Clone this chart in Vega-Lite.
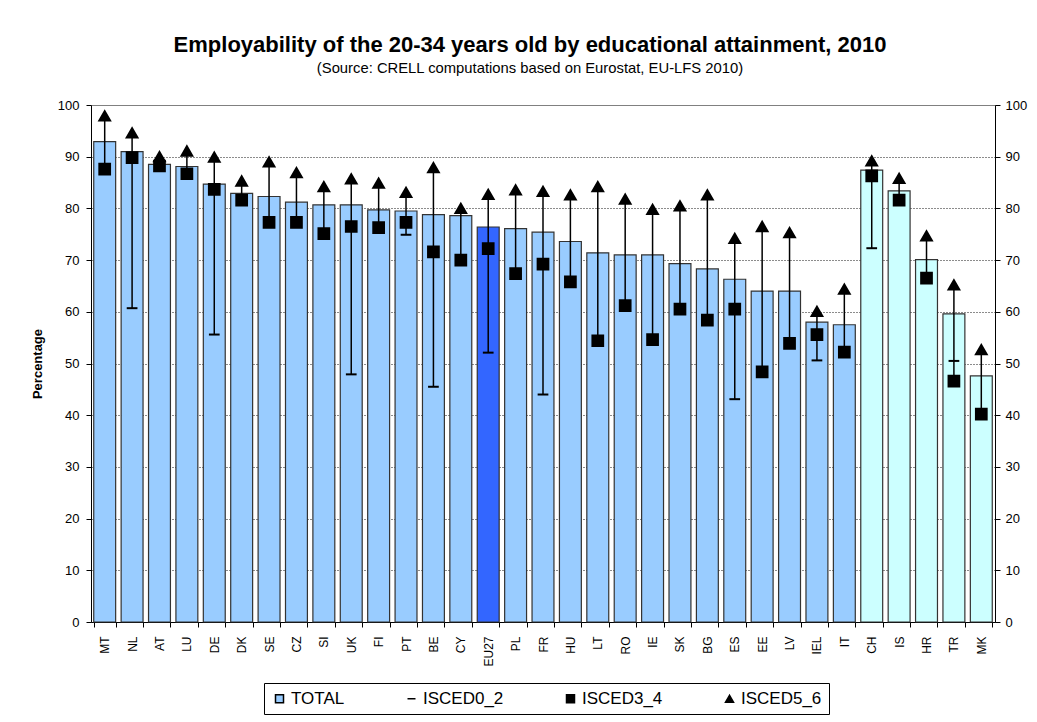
{
  "$schema": "https://vega.github.io/schema/vega-lite/v6.json",
  "width": 904,
  "height": 517,
  "autosize": "none",
  "padding": {"left": 91, "top": 105, "right": 42, "bottom": 100},
  "background": "white",
  "title": {
    "text": "Employability of the 20-34 years old by educational attainment, 2010",
    "subtitle": "(Source: CRELL computations based on Eurostat, EU-LFS 2010)",
    "font": "Liberation Sans",
    "fontSize": 22,
    "fontWeight": "bold",
    "color": "#000000",
    "subtitleFont": "Liberation Sans",
    "subtitleFontSize": 14.8,
    "subtitleColor": "#000000",
    "subtitlePadding": 4,
    "anchor": "middle",
    "frame": "group",
    "offset": 22,
    "dx": -13
  },
  "data": {
    "values": [
      {"country": "MT", "group": "EU", "TOTAL": 92.9, "ISCED0_2": null, "ISCED3_4": 87.6, "ISCED5_6": 97.9},
      {"country": "NL", "group": "EU", "TOTAL": 91.0, "ISCED0_2": 60.7, "ISCED3_4": 89.8, "ISCED5_6": 94.6},
      {"country": "AT", "group": "EU", "TOTAL": 88.5, "ISCED0_2": null, "ISCED3_4": 88.2, "ISCED5_6": 90.0},
      {"country": "LU", "group": "EU", "TOTAL": 88.1, "ISCED0_2": null, "ISCED3_4": 86.7, "ISCED5_6": 91.1},
      {"country": "DE", "group": "EU", "TOTAL": 84.7, "ISCED0_2": 55.6, "ISCED3_4": 83.7, "ISCED5_6": 89.9},
      {"country": "DK", "group": "EU", "TOTAL": 82.9, "ISCED0_2": null, "ISCED3_4": 81.6, "ISCED5_6": 85.3},
      {"country": "SE", "group": "EU", "TOTAL": 82.3, "ISCED0_2": null, "ISCED3_4": 77.3, "ISCED5_6": 89.0},
      {"country": "CZ", "group": "EU", "TOTAL": 81.2, "ISCED0_2": null, "ISCED3_4": 77.3, "ISCED5_6": 86.9},
      {"country": "SI", "group": "EU", "TOTAL": 80.7, "ISCED0_2": null, "ISCED3_4": 75.1, "ISCED5_6": 84.2},
      {"country": "UK", "group": "EU", "TOTAL": 80.7, "ISCED0_2": 47.9, "ISCED3_4": 76.5, "ISCED5_6": 85.7},
      {"country": "FI", "group": "EU", "TOTAL": 79.7, "ISCED0_2": null, "ISCED3_4": 76.3, "ISCED5_6": 84.9},
      {"country": "PT", "group": "EU", "TOTAL": 79.5, "ISCED0_2": 74.9, "ISCED3_4": 77.3, "ISCED5_6": 83.1},
      {"country": "BE", "group": "EU", "TOTAL": 78.8, "ISCED0_2": 45.5, "ISCED3_4": 71.6, "ISCED5_6": 87.9},
      {"country": "CY", "group": "EU", "TOTAL": 78.6, "ISCED0_2": null, "ISCED3_4": 70.0, "ISCED5_6": 80.0},
      {"country": "EU27", "group": "EU27", "TOTAL": 76.4, "ISCED0_2": 52.1, "ISCED3_4": 72.2, "ISCED5_6": 82.7},
      {"country": "PL", "group": "EU", "TOTAL": 76.1, "ISCED0_2": null, "ISCED3_4": 67.4, "ISCED5_6": 83.6},
      {"country": "FR", "group": "EU", "TOTAL": 75.4, "ISCED0_2": 44.0, "ISCED3_4": 69.2, "ISCED5_6": 83.3},
      {"country": "HU", "group": "EU", "TOTAL": 73.6, "ISCED0_2": null, "ISCED3_4": 65.8, "ISCED5_6": 82.6},
      {"country": "LT", "group": "EU", "TOTAL": 71.4, "ISCED0_2": null, "ISCED3_4": 54.4, "ISCED5_6": 84.2},
      {"country": "RO", "group": "EU", "TOTAL": 71.0, "ISCED0_2": null, "ISCED3_4": 61.2, "ISCED5_6": 81.8},
      {"country": "IE", "group": "EU", "TOTAL": 71.0, "ISCED0_2": null, "ISCED3_4": 54.6, "ISCED5_6": 79.8},
      {"country": "SK", "group": "EU", "TOTAL": 69.3, "ISCED0_2": null, "ISCED3_4": 60.5, "ISCED5_6": 80.5},
      {"country": "BG", "group": "EU", "TOTAL": 68.3, "ISCED0_2": null, "ISCED3_4": 58.4, "ISCED5_6": 82.6},
      {"country": "ES", "group": "EU", "TOTAL": 66.3, "ISCED0_2": 43.1, "ISCED3_4": 60.5, "ISCED5_6": 74.2},
      {"country": "EE", "group": "EU", "TOTAL": 64.0, "ISCED0_2": null, "ISCED3_4": 48.4, "ISCED5_6": 76.5},
      {"country": "LV", "group": "EU", "TOTAL": 64.0, "ISCED0_2": null, "ISCED3_4": 53.9, "ISCED5_6": 75.3},
      {"country": "IEL", "group": "EU", "TOTAL": 58.0, "ISCED0_2": 50.6, "ISCED3_4": 55.6, "ISCED5_6": 60.1},
      {"country": "IT", "group": "EU", "TOTAL": 57.5, "ISCED0_2": null, "ISCED3_4": 52.2, "ISCED5_6": 64.4},
      {"country": "CH", "group": "nonEU", "TOTAL": 87.4, "ISCED0_2": 72.3, "ISCED3_4": 86.3, "ISCED5_6": 89.2},
      {"country": "IS", "group": "nonEU", "TOTAL": 83.4, "ISCED0_2": null, "ISCED3_4": 81.6, "ISCED5_6": 85.8},
      {"country": "HR", "group": "nonEU", "TOTAL": 70.1, "ISCED0_2": null, "ISCED3_4": 66.5, "ISCED5_6": 74.7},
      {"country": "TR", "group": "nonEU", "TOTAL": 59.6, "ISCED0_2": 50.5, "ISCED3_4": 46.6, "ISCED5_6": 65.2},
      {"country": "MK", "group": "nonEU", "TOTAL": 47.6, "ISCED0_2": null, "ISCED3_4": 40.2, "ISCED5_6": 52.7}
    ]
  },
  "encoding": {
    "x": {
      "field": "country",
      "type": "nominal",
      "sort": ["MT","NL","AT","LU","DE","DK","SE","CZ","SI","UK","FI","PT","BE","CY","EU27","PL","FR","HU","LT","RO","IE","SK","BG","ES","EE","LV","IEL","IT","CH","IS","HR","TR","MK"],
      "scale": {"paddingInner": 0.2, "paddingOuter": 0.1},
      "axis": {
        "title": null,
        "labelAngle": -90,
        "labelAlign": "right",
        "labelBaseline": "middle",
        "labelFont": "Liberation Sans",
        "labelFontSize": 12,
        "labelColor": "#000000",
        "labelPadding": 9,
        "tickBand": "extent",
        "tickSize": 5,
        "tickColor": "#000000",
        "domainColor": "#000000",
        "grid": false
      }
    }
  },
  "layer": [
    {
      "mark": {"type": "bar", "stroke": "#333333", "strokeWidth": 1.2},
      "encoding": {
        "y": {
          "field": "TOTAL",
          "type": "quantitative",
          "scale": {"domain": [0, 100], "nice": false},
          "axis": {
            "orient": "left",
            "title": "Percentage",
            "titleFont": "Liberation Sans",
            "titleFontSize": 13,
            "titleFontWeight": "bold",
            "titleColor": "#000000",
            "titlePadding": 13,
            "values": [0, 10, 20, 30, 40, 50, 60, 70, 80, 90, 100],
            "labelFont": "Liberation Sans",
            "labelFontSize": 13,
            "labelColor": "#000000",
            "labelPadding": 7,
            "tickSize": 5,
            "tickColor": "#000000",
            "domainColor": "#000000",
            "grid": true,
            "gridColor": "#000000",
            "gridDash": [1, 2],
            "gridOpacity": {"condition": {"test": "datum.value === 0 || datum.value === 100", "value": 0}, "value": 0.9}
          }
        },
        "fill": {
          "field": "group",
          "type": "nominal",
          "scale": {"domain": ["EU", "EU27", "nonEU"], "range": ["#99CCFF", "#3366FF", "#CCFFFF"]},
          "legend": null
        }
      }
    },
    {
      "transform": [
        {"fold": ["ISCED0_2", "ISCED3_4", "ISCED5_6"], "as": ["series", "value"]},
        {"filter": "isValid(datum.value)"},
        {"aggregate": [{"op": "min", "field": "value", "as": "lo"}, {"op": "max", "field": "value", "as": "hi"}], "groupby": ["country"]}
      ],
      "mark": {"type": "rule", "color": "#000000", "strokeWidth": 1.5},
      "encoding": {
        "y": {
          "field": "lo",
          "type": "quantitative",
          "axis": {
            "orient": "right",
            "title": null,
            "values": [0, 10, 20, 30, 40, 50, 60, 70, 80, 90, 100],
            "labelFont": "Liberation Sans",
            "labelFontSize": 13,
            "labelColor": "#000000",
            "labelPadding": 5,
            "tickSize": 5,
            "tickColor": "#000000",
            "domainColor": "#000000",
            "grid": false
          }
        },
        "y2": {"field": "hi"}
      }
    },
    {
      "transform": [
        {"fold": ["ISCED0_2", "ISCED3_4", "ISCED5_6"], "as": ["series", "value"]},
        {"filter": "isValid(datum.value)"}
      ],
      "mark": {"type": "point", "filled": true, "stroke": "#000000", "strokeWidth": 2, "opacity": 1, "size": 115},
      "encoding": {
        "y": {"field": "value", "type": "quantitative", "axis": null},
        "shape": {
          "field": "series",
          "type": "nominal",
          "scale": {"domain": ["TOTAL", "ISCED0_2", "ISCED3_4", "ISCED5_6"], "range": ["square", "stroke", "square", "triangle-up"]},
          "legend": {"title": null}
        },
        "color": {
          "field": "series",
          "type": "nominal",
          "scale": {"domain": ["TOTAL", "ISCED0_2", "ISCED3_4", "ISCED5_6"], "range": ["#99CCFF", "#000000", "#000000", "#000000"]},
          "legend": {"title": null}
        }
      }
    }
  ],
  "resolve": {"axis": {"y": "independent"}},
  "config": {
    "font": "Liberation Sans",
    "view": {"stroke": "#808080", "strokeWidth": 1},
    "legend": {
      "orient": "none",
      "legendX": 173,
      "legendY": 578,
      "direction": "horizontal",
      "columns": 4,
      "columnPadding": 58,
      "padding": 7,
      "strokeColor": "#000000",
      "fillColor": "#ffffff",
      "labelFont": "Liberation Sans",
      "labelFontSize": 17,
      "labelColor": "#000000",
      "labelOffset": 3,
      "symbolSize": 64
    }
  }
}
